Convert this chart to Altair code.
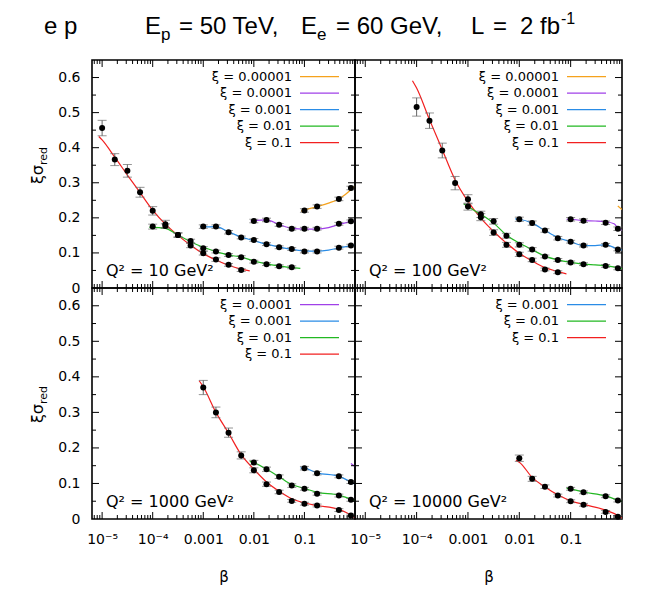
import json
import altair as alt
import pandas as pd

FONT = "DejaVu Sans"
TITLE_FONT = "Liberation Sans"

# ---------------- labels / categories ----------------
XI_LABELS = ["0.00001", "0.0001", "0.001", "0.01", "0.1"]
XI_COLORS = ["#f5a21c", "#a040e8", "#2a8ce6", "#22b822", "#f22020"]
ERR_COLOR = "#666666"
Q2_LABELS = ["Q² = 10 GeV²", "Q² = 100 GeV²", "Q² = 1000 GeV²", "Q² = 10000 GeV²"]
PANEL_XI = [XI_LABELS, XI_LABELS, XI_LABELS[1:], XI_LABELS[2:]]

X_MAJOR = [1e-5, 1e-4, 1e-3, 1e-2, 1e-1]
X_TICK_LABELS = ["10⁻⁵", "10⁻⁴", "0.001", "0.01", "0.1"]
Y_MAJOR = [0, 0.1, 0.2, 0.3, 0.4, 0.5, 0.6]
Y_MINOR = [0.05, 0.15, 0.25, 0.35, 0.45, 0.55]
X_DOMAIN = [10 ** -5.2, 1.0]
Y_DOMAIN = [0, 0.65]

TITLE_TEXTS = ["e p", "E", "p", "= 50 TeV,", "E", "e", "= 60 GeV,", "L", "=", "2", "fb", "-1"]

# ---------------- Q2 = 10 ----------------
Q10_R_PB = [1e-5, 1.78e-5, 3.16e-5, 5.62e-5, 1e-4, 1.78e-4, 3.16e-4, 5.62e-4, 1e-3, 1.78e-3, 3.16e-3, 5.62e-3]
Q10_R_PV = [0.456, 0.366, 0.334, 0.273, 0.220, 0.182, 0.151, 0.121, 0.099, 0.081, 0.066, 0.051]
Q10_R_PE = [0.022, 0.017, 0.018, 0.014, 0.012, 0.011, 0.007, 0.006, 0.005, 0.005, 0.004, 0.004]
Q10_R_CB = [8.6e-6, 1e-5, 1.78e-5, 3.16e-5, 5.62e-5, 1e-4, 1.78e-4, 3.16e-4, 5.62e-4, 1e-3, 1.78e-3, 3.16e-3, 5.62e-3, 8.3e-3]
Q10_R_CV = [0.432, 0.422, 0.373, 0.322, 0.272, 0.222, 0.182, 0.150, 0.122, 0.098, 0.080, 0.065, 0.054, 0.049]

Q10_G_PB = [1e-4, 1.78e-4, 3.16e-4, 5.62e-4, 1e-3, 1.78e-3, 3.16e-3, 5.62e-3, 0.01, 0.0178, 0.0316, 0.0562]
Q10_G_PV = [0.175, 0.177, 0.151, 0.134, 0.113, 0.104, 0.094, 0.088, 0.075, 0.068, 0.062, 0.059]
Q10_G_PE = [0.007, 0.006, 0.005, 0.005, 0.005, 0.004, 0.004, 0.004, 0.004, 0.004, 0.004, 0.004]
Q10_G_CB = [8.6e-5, 1e-4, 1.78e-4, 3.16e-4, 5.62e-4, 1e-3, 1.78e-3, 3.16e-3, 5.62e-3, 0.01, 0.0178, 0.0316, 0.0562, 0.083]
Q10_G_CV = [0.173, 0.173, 0.170, 0.151, 0.132, 0.116, 0.104, 0.094, 0.088, 0.077, 0.069, 0.063, 0.058, 0.056]

Q10_B_PB = [1e-3, 1.78e-3, 3.16e-3, 5.62e-3, 0.01, 0.0178, 0.0316, 0.0562, 0.1, 0.178, 0.48, 0.83]
Q10_B_PV = [0.175, 0.175, 0.159, 0.144, 0.137, 0.125, 0.116, 0.111, 0.104, 0.104, 0.115, 0.121]
Q10_B_PE = [0.005, 0.005, 0.005, 0.004, 0.004, 0.004, 0.004, 0.004, 0.004, 0.004, 0.004, 0.004]
Q10_B_CB = [8.6e-4, 1e-3, 1.78e-3, 3.16e-3, 5.62e-3, 0.01, 0.0178, 0.0316, 0.0562, 0.1, 0.178, 0.3, 0.48, 0.83, 1.0]
Q10_B_CV = [0.174, 0.174, 0.175, 0.160, 0.145, 0.135, 0.125, 0.117, 0.110, 0.106, 0.105, 0.108, 0.114, 0.121, 0.123]

Q10_P_PB = [0.01, 0.0178, 0.0316, 0.0562, 0.1, 0.178, 0.48, 0.83]
Q10_P_PV = [0.191, 0.194, 0.180, 0.169, 0.169, 0.169, 0.183, 0.190]
Q10_P_PE = [0.005, 0.005, 0.004, 0.004, 0.004, 0.004, 0.004, 0.004]
Q10_P_CB = [8.6e-3, 0.01, 0.0178, 0.0316, 0.0562, 0.1, 0.178, 0.3, 0.48, 0.83, 1.0]
Q10_P_CV = [0.191, 0.192, 0.194, 0.181, 0.170, 0.168, 0.168, 0.172, 0.181, 0.189, 0.191]

Q10_O_PB = [0.1, 0.178, 0.48, 0.83]
Q10_O_PV = [0.221, 0.232, 0.254, 0.285]
Q10_O_PE = [0.005, 0.005, 0.005, 0.005]
Q10_O_CB = [0.086, 0.1, 0.178, 0.3, 0.48, 0.83, 1.0]
Q10_O_CV = [0.219, 0.222, 0.232, 0.242, 0.254, 0.280, 0.292]

# ---------------- Q2 = 100 ----------------
Q100_R_PB = [1e-4, 1.78e-4, 3.16e-4, 5.62e-4, 1e-3, 1.78e-3, 3.16e-3, 5.62e-3, 0.01, 0.0178, 0.0316, 0.0562]
Q100_R_PV = [0.516, 0.477, 0.392, 0.299, 0.253, 0.202, 0.158, 0.123, 0.096, 0.080, 0.053, 0.045]
Q100_R_PE = [0.026, 0.022, 0.021, 0.019, 0.013, 0.010, 0.008, 0.007, 0.006, 0.005, 0.004, 0.004]
Q100_R_CB = [8.3e-5, 1e-4, 1.78e-4, 3.16e-4, 5.62e-4, 1e-3, 1.78e-3, 3.16e-3, 5.62e-3, 0.01, 0.0178, 0.0316, 0.0562, 0.083]
Q100_R_CV = [0.591, 0.570, 0.480, 0.394, 0.308, 0.247, 0.199, 0.161, 0.128, 0.099, 0.077, 0.058, 0.047, 0.040]

Q100_G_PB = [1e-3, 1.78e-3, 3.16e-3, 5.62e-3, 0.01, 0.0178, 0.0316, 0.0562, 0.1, 0.178, 0.48, 0.83]
Q100_G_PV = [0.232, 0.210, 0.190, 0.149, 0.123, 0.110, 0.090, 0.080, 0.073, 0.068, 0.063, 0.056]
Q100_G_PE = [0.010, 0.009, 0.008, 0.007, 0.006, 0.005, 0.004, 0.004, 0.004, 0.004, 0.004, 0.004]
Q100_G_CB = [8.3e-4, 1e-3, 1.78e-3, 3.16e-3, 5.62e-3, 0.01, 0.0178, 0.0316, 0.0562, 0.1, 0.178, 0.3, 0.48, 0.83, 1.0]
Q100_G_CV = [0.240, 0.232, 0.210, 0.185, 0.151, 0.128, 0.109, 0.091, 0.080, 0.073, 0.068, 0.066, 0.064, 0.058, 0.055]

Q100_B_PB = [0.01, 0.0178, 0.0316, 0.0562, 0.1, 0.178, 0.48, 0.83]
Q100_B_PV = [0.196, 0.185, 0.164, 0.142, 0.132, 0.121, 0.123, 0.110]
Q100_B_PE = [0.006, 0.006, 0.005, 0.005, 0.004, 0.004, 0.004, 0.004]
Q100_B_CB = [8.3e-3, 0.01, 0.0178, 0.0316, 0.0562, 0.1, 0.178, 0.3, 0.48, 0.83, 1.0]
Q100_B_CV = [0.197, 0.196, 0.185, 0.164, 0.144, 0.132, 0.121, 0.121, 0.123, 0.111, 0.108]

Q100_P_PB = [0.1, 0.178, 0.48, 0.83]
Q100_P_PV = [0.196, 0.192, 0.186, 0.169]
Q100_P_PE = [0.005, 0.005, 0.005, 0.005]
Q100_P_CB = [0.083, 0.1, 0.178, 0.3, 0.48, 0.7, 0.83, 1.0]
Q100_P_CV = [0.196, 0.196, 0.192, 0.191, 0.189, 0.183, 0.172, 0.163]

Q100_O_CB = [0.83, 1.0]
Q100_O_CV = [0.234, 0.224]

# ---------------- Q2 = 1000 ----------------
Q1000_R_PB = [1e-3, 1.78e-3, 3.16e-3, 5.62e-3, 0.01, 0.0178, 0.0316, 0.0562, 0.1, 0.178, 0.48, 0.83]
Q1000_R_PV = [0.370, 0.300, 0.243, 0.179, 0.137, 0.098, 0.076, 0.051, 0.043, 0.038, 0.025, 0.010]
Q1000_R_PE = [0.020, 0.015, 0.013, 0.010, 0.007, 0.006, 0.005, 0.004, 0.004, 0.004, 0.004, 0.004]
Q1000_R_CB = [8.3e-4, 1e-3, 1.78e-3, 3.16e-3, 5.62e-3, 0.01, 0.0178, 0.0316, 0.0562, 0.1, 0.178, 0.48, 0.83, 1.0]
Q1000_R_CV = [0.389, 0.372, 0.300, 0.242, 0.181, 0.140, 0.104, 0.078, 0.057, 0.045, 0.038, 0.027, 0.011, 0.003]

Q1000_G_PB = [0.01, 0.0178, 0.0316, 0.0562, 0.1, 0.178, 0.48, 0.83]
Q1000_G_PV = [0.159, 0.140, 0.119, 0.094, 0.085, 0.071, 0.066, 0.054]
Q1000_G_PE = [0.006, 0.006, 0.005, 0.005, 0.004, 0.004, 0.004, 0.004]
Q1000_G_CB = [8.3e-3, 0.01, 0.0178, 0.0316, 0.0562, 0.1, 0.178, 0.48, 0.83, 1.0]
Q1000_G_CV = [0.162, 0.159, 0.140, 0.119, 0.097, 0.086, 0.075, 0.067, 0.056, 0.052]

Q1000_B_PB = [0.1, 0.178, 0.48, 0.83]
Q1000_B_PV = [0.143, 0.129, 0.120, 0.104]
Q1000_B_PE = [0.005, 0.005, 0.004, 0.004]
Q1000_B_CB = [0.083, 0.1, 0.178, 0.48, 0.83, 1.0]
Q1000_B_CV = [0.144, 0.143, 0.130, 0.120, 0.104, 0.098]

Q1000_P_CB = [0.83, 1.0]
Q1000_P_CV = [0.156, 0.148]

# ---------------- Q2 = 10000 ----------------
Q10000_R_PB = [0.01, 0.0178, 0.0316, 0.0562, 0.1, 0.178, 0.48, 0.83]
Q10000_R_PV = [0.171, 0.113, 0.091, 0.066, 0.050, 0.040, 0.020, 0.006]
Q10000_R_PE = [0.009, 0.007, 0.005, 0.004, 0.004, 0.004, 0.004, 0.004]
Q10000_R_CB = [8.6e-3, 0.01, 0.0178, 0.0316, 0.0562, 0.1, 0.178, 0.48, 0.83, 1.0]
Q10000_R_CV = [0.165, 0.160, 0.117, 0.090, 0.068, 0.051, 0.041, 0.025, 0.010, 0.002]

Q10000_G_PB = [0.1, 0.178, 0.48, 0.83]
Q10000_G_PV = [0.085, 0.075, 0.064, 0.052]
Q10000_G_PE = [0.004, 0.004, 0.004, 0.004]
Q10000_G_CB = [0.083, 0.1, 0.178, 0.48, 0.83, 1.0]
Q10000_G_CV = [0.087, 0.085, 0.076, 0.065, 0.053, 0.049]

# (panel, xi, points beta, points value, points error, curve beta, curve value)
SERIES = [
    (0, "0.1", Q10_R_PB, Q10_R_PV, Q10_R_PE, Q10_R_CB, Q10_R_CV),
    (0, "0.01", Q10_G_PB, Q10_G_PV, Q10_G_PE, Q10_G_CB, Q10_G_CV),
    (0, "0.001", Q10_B_PB, Q10_B_PV, Q10_B_PE, Q10_B_CB, Q10_B_CV),
    (0, "0.0001", Q10_P_PB, Q10_P_PV, Q10_P_PE, Q10_P_CB, Q10_P_CV),
    (0, "0.00001", Q10_O_PB, Q10_O_PV, Q10_O_PE, Q10_O_CB, Q10_O_CV),
    (1, "0.1", Q100_R_PB, Q100_R_PV, Q100_R_PE, Q100_R_CB, Q100_R_CV),
    (1, "0.01", Q100_G_PB, Q100_G_PV, Q100_G_PE, Q100_G_CB, Q100_G_CV),
    (1, "0.001", Q100_B_PB, Q100_B_PV, Q100_B_PE, Q100_B_CB, Q100_B_CV),
    (1, "0.0001", Q100_P_PB, Q100_P_PV, Q100_P_PE, Q100_P_CB, Q100_P_CV),
    (1, "0.00001", [], [], [], Q100_O_CB, Q100_O_CV),
    (2, "0.1", Q1000_R_PB, Q1000_R_PV, Q1000_R_PE, Q1000_R_CB, Q1000_R_CV),
    (2, "0.01", Q1000_G_PB, Q1000_G_PV, Q1000_G_PE, Q1000_G_CB, Q1000_G_CV),
    (2, "0.001", Q1000_B_PB, Q1000_B_PV, Q1000_B_PE, Q1000_B_CB, Q1000_B_CV),
    (2, "0.0001", [], [], [], Q1000_P_CB, Q1000_P_CV),
    (3, "0.1", Q10000_R_PB, Q10000_R_PV, Q10000_R_PE, Q10000_R_CB, Q10000_R_CV),
    (3, "0.01", Q10000_G_PB, Q10000_G_PV, Q10000_G_PE, Q10000_G_CB, Q10000_G_CV),
]

pt_rows, cv_rows = [], []
for panel_i, xi, pb, pv, pe, cb, cv in SERIES:
    for b, v, e in zip(pb, pv, pe):
        pt_rows.append({"panel": panel_i, "xi": xi, "beta": b, "val": v, "err": e})
    for b, v in zip(cb, cv):
        cv_rows.append({"panel": panel_i, "xi": xi, "beta": b, "val": v})
points_df = pd.DataFrame(pt_rows)
curves_df = pd.DataFrame(cv_rows)

X_MINOR = [m * 10 ** e for e in range(-6, 0) for m in range(2, 10) if X_DOMAIN[0] < m * 10 ** e < 1]

# ---------------- layout / style ----------------
PW = [263, 267]
PH = [228, 231]
MAJ, MIN = 7, 4
TITLE_X = [44, 145, 161, 179, 301, 317, 336, 471, 493, 520, 540, 561]
TITLE_SIZE = [24, 24, 17, 24, 24, 17, 24, 24, 24, 24, 24, 16]
TITLE_DY = [0, 0, 6, 0, 0, 6, 0, 0, 0, 0, 0, -10]
YTITLE_Y = [105, 116]

color_scale = alt.Scale(domain=XI_LABELS, range=XI_COLORS)
x_label_expr = json.dumps(X_TICK_LABELS, ensure_ascii=False) + "[round(log(datum.value)/LN10)+5]"


def text_layer(txt, x, y, size, font=FONT, align="left", baseline="alphabetic", angle=0, dy=0):
    return alt.Chart(pd.DataFrame({"t": [txt]})).mark_text(
        font=font, fontSize=size, align=align, baseline=baseline, angle=angle, dy=dy, color="black"
    ).encode(text="t:N", x=alt.value(x), y=alt.value(y))


def panel(i):
    col, row = i % 2, i // 2
    W, H = PW[col], PH[row]
    xscale = alt.Scale(type="log", domain=X_DOMAIN, nice=False)
    yscale = alt.Scale(domain=Y_DOMAIN, nice=False, zero=False)
    if row == 1:
        xaxis = alt.Axis(values=X_MAJOR, labelExpr=x_label_expr, ticks=False, domain=False, grid=False,
                         labelPadding=13, labelFont=FONT, labelFontSize=14, labelColor="black",
                         labelFlush=False, labelOverlap=False, title="β", titleFont=FONT,
                         titleFontSize=15, titleFontWeight="normal", titleColor="black", titlePadding=23)
    else:
        xaxis = None
    if col == 0:
        yaxis = alt.Axis(values=Y_MAJOR, format=".1~f", ticks=False, domain=False, grid=False,
                         labelPadding=12, labelFont=FONT, labelFontSize=14, labelColor="black",
                         labelFlush=False, labelOverlap=False, title=None)
    else:
        yaxis = None

    def X(f):
        return alt.X(f"{f}:Q", scale=xscale, axis=xaxis)

    def Y(f):
        return alt.Y(f"{f}:Q", scale=yscale, axis=yaxis)

    pts = points_df[points_df.panel == i]
    crv = curves_df[curves_df.panel == i]
    layers = []
    layers.append(alt.Chart(crv).mark_line(strokeWidth=1.2, interpolate="monotone", clip=True).encode(
        x=X("beta"), y=Y("val"), color=alt.Color("xi:N", scale=color_scale, legend=None), detail="xi:N"))
    eb = alt.Chart(pts).transform_calculate(lo="datum.val - datum.err", hi="datum.val + datum.err")
    layers.append(eb.mark_rule(color=ERR_COLOR, strokeWidth=1).encode(x=X("beta"), y=Y("lo"), y2="hi:Q"))
    layers.append(eb.mark_tick(orient="horizontal", size=9, thickness=1, color=ERR_COLOR).encode(x=X("beta"), y=Y("lo")))
    layers.append(eb.mark_tick(orient="horizontal", size=9, thickness=1, color=ERR_COLOR).encode(x=X("beta"), y=Y("hi")))
    layers.append(alt.Chart(pts).mark_circle(size=36, color="black", opacity=1).encode(x=X("beta"), y=Y("val")))

    # inward ticks on all four sides
    xmaj = pd.DataFrame({"v": X_MAJOR})
    xmin = pd.DataFrame({"v": X_MINOR})
    ymaj = pd.DataFrame({"v": Y_MAJOR[1:]})
    ymin = pd.DataFrame({"v": Y_MINOR})
    for df, L in ((xmaj, MAJ), (xmin, MIN)):
        layers.append(alt.Chart(df).mark_rule(color="black", strokeWidth=1).encode(
            x=X("v"), y=alt.value(H), y2=alt.value(H - L)))
        layers.append(alt.Chart(df).mark_rule(color="black", strokeWidth=1).encode(
            x=X("v"), y=alt.value(0), y2=alt.value(L)))
    for df, L in ((ymaj, MAJ), (ymin, MIN)):
        layers.append(alt.Chart(df).mark_rule(color="black", strokeWidth=1).encode(
            y=Y("v"), x=alt.value(0), x2=alt.value(L)))
        layers.append(alt.Chart(df).mark_rule(color="black", strokeWidth=1).encode(
            y=Y("v"), x=alt.value(W), x2=alt.value(W - L)))

    # in-plot key
    for k, xi in enumerate(PANEL_XI[i]):
        yk = 16.7 + 16.5 * k
        layers.append(text_layer("ξ = " + xi, W - 63, yk, 13, align="right", baseline="middle"))
        layers.append(alt.Chart(pd.DataFrame({"xi": [xi]})).mark_rule(
            color=XI_COLORS[XI_LABELS.index(xi)], strokeWidth=1.3).encode(
            x=alt.value(W - 55), x2=alt.value(W - 16), y=alt.value(yk)))

    layers.append(text_layer(Q2_LABELS[i], 14, H - 12, 16))

    if col == 0:
        yc = YTITLE_Y[row]
        layers.append(text_layer("ξσ", -54, yc, 16, align="right", baseline="middle", angle=270))
        layers.append(text_layer("red", -54, yc, 11, align="left", baseline="middle", angle=270, dy=6))

    if i == 0:
        for t, x, s, d in zip(TITLE_TEXTS, TITLE_X, TITLE_SIZE, TITLE_DY):
            layers.append(text_layer(t, x - 92, -26, s, font=TITLE_FONT, dy=d))

    return alt.layer(*layers).properties(width=W, height=H)


chart = alt.concat(panel(0), panel(1), panel(2), panel(3), columns=2, spacing=0, bounds="flush").properties(
    padding={"left": 29, "top": 10, "right": 5, "bottom": 5}, background="white"
).configure_view(stroke="black", strokeWidth=1.6)

chart.save("out.html", embed_options={"renderer": "svg", "actions": False})
